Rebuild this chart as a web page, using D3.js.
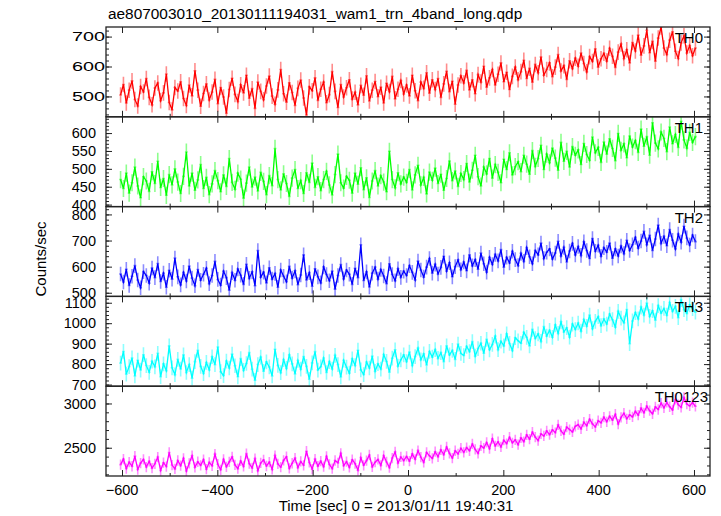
<!DOCTYPE html>
<html><head><meta charset="utf-8">
<script src="https://cdn.jsdelivr.net/npm/d3@7"></script>
<style>
body{margin:0;background:#fff;}
text{font-family:"Liberation Sans",Arial,Helvetica,sans-serif;fill:#000;}
</style>
</head><body>
<svg id="chart" width="721" height="516"></svg>
<script>
// ---------------- data ----------------
const titleText = "ae807003010_20130111194031_wam1_trn_4band_long.qdp";
const xLabelText = "Time [sec] 0 = 2013/01/11 19:40:31";
const yLabelText = "Counts/sec";
const binStart = -603;   // time of first bin (sec)
const binSize = 6;       // bin width (sec)
const seriesNames = ["TH0", "TH1", "TH2", "TH3", "TH0123"];
const seriesColors = ["#ff0000", "#00ff00", "#0000ff", "#00ffff", "#ff00ff"];

const th0 = [
505,540,478,521,552,490,468,533,515,560,
497,472,528,545,486,512,575,480,455,530,
518,549,493,470,538,502,586,521,467,510,
542,488,515,557,476,530,498,444,523,561,
507,483,539,512,571,494,526,460,548,517,
489,535,568,501,474,522,590,509,481,546,
513,470,527,555,495,438,532,519,562,487,
524,548,479,506,583,517,463,540,498,529,
556,491,514,472,537,504,569,485,521,550,
499,531,478,544,516,567,492,524,553,508,
538,502,571,519,486,548,527,579,511,556,
523,560,497,542,584,516,551,474,538,569,
545,587,522,556,509,573,548,601,531,562,
590,538,574,612,549,581,523,567,598,556,
583,621,560,594,548,607,579,632,571,590,
612,566,598,640,585,603,557,619,593,628,
601,645,610,582,633,617,659,598,626,644,
618,661,634,597,648,675,627,656,612,680,
652,705,638,669,721,646,684,618,695,732,
662,640,688,716,651,627,679,703,645,670,
636,662];

const th1 = [
470,445,488,432,461,505,452,419,478,466,
437,492,459,521,448,473,426,484,455,500,
463,431,479,547,452,488,440,469,512,445,
476,428,458,495,467,436,483,451,529,462,
443,488,471,418,460,505,449,477,438,490,
465,428,481,453,557,470,441,486,459,423,
474,498,445,467,431,489,462,516,448,478,
439,470,493,455,427,484,541,461,446,479,
468,432,488,457,503,442,475,420,466,495,
452,481,463,436,549,470,447,489,458,477,
462,498,441,483,510,455,476,430,491,468,
502,459,485,440,473,522,467,494,451,487,
470,515,463,496,538,478,452,505,486,529,
474,512,490,461,527,498,545,483,506,520,
492,538,513,485,551,507,529,566,498,541,
517,558,530,496,574,521,549,505,562,538,
553,512,571,540,524,589,545,560,518,575,
541,584,557,523,599,552,570,531,592,561,
579,546,611,563,590,538,629,572,556,603,
585,548,617,570,596,560,633,581,558,602,
574,590];

const th2 = [
572,541,590,528,563,604,549,519,581,566,
537,595,558,612,543,575,521,586,552,633,
561,530,578,545,602,556,527,589,548,571,
594,535,566,620,551,529,583,558,510,577,
548,591,567,532,609,555,580,527,662,560,
579,538,596,552,574,521,587,563,542,601,
556,584,531,568,645,549,577,525,592,561,
538,599,570,546,583,514,566,608,553,587,
571,532,594,558,684,547,580,522,575,598,
552,589,564,535,611,570,546,592,559,583,
566,604,578,549,621,587,560,598,631,575,
609,572,597,640,583,615,561,600,626,588,
618,584,645,603,627,590,652,611,579,636,
608,647,622,665,598,636,614,659,627,604,
651,620,673,638,611,662,645,690,631,655,
668,629,652,697,641,674,618,660,689,645,
677,643,695,662,631,708,659,682,640,673,
655,690,632,668,641,679,650,701,662,684,
712,671,698,735,684,720,662,706,759,689,
716,680,742,701,668,725,694,755,710,683,
721,696];

const th3 = [
805,862,751,788,830,742,819,771,846,793,
760,814,787,853,739,801,768,889,782,748,
823,776,845,759,798,731,812,867,789,754,
808,772,836,797,884,763,744,815,781,849,
792,738,827,769,803,856,775,721,798,834,
765,811,786,742,873,794,758,822,779,845,
801,752,818,775,837,789,726,806,861,771,
787,830,759,812,776,843,798,737,819,785,
756,826,793,868,772,749,810,781,839,765,
802,776,847,813,761,829,870,790,821,845,
812,859,793,837,878,821,850,796,862,834,
871,828,856,812,889,845,867,823,898,852,
842,887,861,910,839,876,902,853,921,870,
896,937,871,912,889,948,901,866,929,914,
902,956,931,889,970,925,948,911,983,937,
965,931,992,950,1007,957,978,932,996,969,
1001,961,1018,985,1040,973,1009,1032,988,1021,
996,1045,1017,981,1058,1025,1002,1067,900,1011,
1052,1021,1079,1040,1098,1033,1061,1015,1086,1049,
1072,1039,1101,1058,1082,1027,1115,1066,1048,1090,
1071,1054];

const th0123 = [
2310,2372,2265,2338,2291,2405,2254,2326,2368,2282,
2347,2270,2319,2395,2243,2331,2288,2447,2305,2262,
2356,2298,2381,2237,2324,2410,2279,2342,2301,2366,
2258,2335,2296,2428,2314,2251,2369,2285,2340,2397,
2307,2263,2351,2289,2434,2320,2272,2377,2241,2328,
2363,2294,2338,2255,2412,2318,2281,2357,2399,2267,
2325,2383,2276,2345,2302,2461,2334,2259,2371,2292,
2349,2286,2403,2311,2264,2356,2330,2437,2297,2343,
2278,2365,2320,2246,2388,2302,2355,2418,2284,2337,
2368,2301,2412,2339,2276,2384,2452,2327,2396,2354,
2402,2349,2431,2370,2468,2393,2335,2447,2409,2380,
2455,2398,2477,2421,2509,2437,2384,2466,2430,2495,
2448,2502,2466,2543,2481,2437,2521,2497,2560,2489,
2602,2521,2568,2509,2585,2547,2619,2556,2590,2534,
2612,2568,2645,2597,2676,2620,2581,2658,2633,2691,
2648,2702,2671,2758,2690,2652,2733,2705,2679,2742,
2761,2712,2789,2748,2822,2770,2735,2806,2781,2846,
2793,2855,2812,2879,2768,2843,2890,2827,2871,2849,
2912,2868,2947,2895,2970,2918,2884,2961,2932,3005,
2951,3012,2963,2928,3045,2987,2956,3068,2994,2972,
3010,2968];

const seriesValues = [th0, th1, th2, th3, th0123];
const seriesErr = [26, 24, 28, 36, 58];   // typical 1-sigma error per bin

const xDomain = [-633.6, 633.6];
const xMajorTicks = [-600, -400, -200, 0, 200, 400, 600];
const xMinorTicks = [-500, -300, -100, 100, 300, 500];
const yDomains = [[432, 732], [394.4, 645.5], [486, 830], [692, 1131], [2181, 3195]];
const yMajorTicks = [[500, 600, 700], [400, 450, 500, 550, 600], [500, 600, 700, 800], [700, 800, 900, 1000, 1100], [2500, 3000]];
const yMinorTicks = [
  d3.range(440, 731, 20),
  d3.range(400, 641, 10),
  d3.range(500, 821, 20),
  d3.range(700, 1121, 20),
  d3.range(2200, 3101, 100)
];

// ---------------- layout ----------------
const svg = d3.select("#chart");
const L = 106, R = 710, T = 27, B = 476;
const nP = seriesNames.length;
const pH = (B - T) / nP;
const x = d3.scaleLinear().domain(xDomain).range([L, R]);
const times = seriesValues[0].map((d, i) => binStart + i * binSize);
const axisColor = "#222";

svg.append("rect").attr("width", 721).attr("height", 516).attr("fill", "#fff");

const defs = svg.append("defs");

seriesNames.forEach((name, p) => {
  const top = T + p * pH, bot = T + (p + 1) * pH;
  const y = d3.scaleLinear().domain(yDomains[p]).range([bot, top]);
  const vals = seriesValues[p];
  const col = seriesColors[p];
  const err = seriesErr[p];

  defs.append("clipPath").attr("id", "clip" + p)
    .append("rect").attr("x", L).attr("y", top).attr("width", R - L).attr("height", pH);

  const g = svg.append("g").attr("clip-path", `url(#clip${p})`);
  // error bars (value +/- err), one per bin, with bin-width caps
  const eb = g.selectAll("g.err").data(vals).join("g").attr("class", "err")
    .attr("stroke", col).attr("stroke-opacity", 0.45).attr("stroke-width", 1.6);
  eb.append("line")
    .attr("x1", (d, i) => x(times[i])).attr("x2", (d, i) => x(times[i]))
    .attr("y1", d => y(d - err)).attr("y2", d => y(d + err));
  eb.append("line")
    .attr("x1", (d, i) => x(times[i] - binSize / 2)).attr("x2", (d, i) => x(times[i] + binSize / 2))
    .attr("y1", d => y(d)).attr("y2", d => y(d));
  g.append("path").datum(vals)
    .attr("d", d3.line().x((d, i) => x(times[i])).y(d => y(d)))
    .attr("fill", "none").attr("stroke", col).attr("stroke-width", 1.3);

  // axes ticks (inward)
  const mk = (axis, tr) => {
    const a = svg.append("g").attr("transform", tr).call(axis);
    a.select(".domain").remove();
    a.selectAll("line").attr("stroke", axisColor);
    a.selectAll("text").remove();
  };
  mk(d3.axisLeft(y).tickValues(yMajorTicks[p]).tickSize(-6), `translate(${L},0)`);
  mk(d3.axisLeft(y).tickValues(yMinorTicks[p]).tickSize(-3), `translate(${L},0)`);
  mk(d3.axisRight(y).tickValues(yMajorTicks[p]).tickSize(-6), `translate(${R},0)`);
  mk(d3.axisRight(y).tickValues(yMinorTicks[p]).tickSize(-3), `translate(${R},0)`);
  mk(d3.axisBottom(x).tickValues(xMajorTicks).tickSize(-6), `translate(0,${bot})`);
  mk(d3.axisBottom(x).tickValues(xMinorTicks).tickSize(-3), `translate(0,${bot})`);
  mk(d3.axisTop(x).tickValues(xMajorTicks).tickSize(-6), `translate(0,${top})`);
  mk(d3.axisTop(x).tickValues(xMinorTicks).tickSize(-3), `translate(0,${top})`);

  // y tick labels
  const lab = svg.append("g");
  yMajorTicks[p].forEach(v => {
    const t = lab.append("text")
      .attr("x", p === 0 ? 105 : 96).attr("y", y(v)).attr("dy", "0.36em")
      .attr("text-anchor", "end")
      .style("font-size", p === 0 ? "12.5px" : "14.5px")
      .text(v);
    if (p === 0) t.attr("textLength", 33).attr("lengthAdjust", "spacingAndGlyphs");
  });

  // panel name
  svg.append("text").attr("x", p === nP - 1 ? 708 : 703).attr("y", top + 16)
    .attr("text-anchor", "end").style("font-size", "15px").text(name);
});

// frames
for (let p = 0; p < nP; p++) {
  svg.append("rect").attr("x", L).attr("y", T + p * pH).attr("width", R - L).attr("height", pH)
    .attr("fill", "none").attr("stroke", axisColor).attr("stroke-width", 1.3);
}

// x tick labels
svg.append("g").selectAll("text").data(xMajorTicks).join("text")
  .attr("x", d => x(d)).attr("y", 495).attr("text-anchor", "middle")
  .style("font-size", "14.5px")
  .text(d => d < 0 ? "\u2212" + Math.abs(d) : d);

// titles
svg.append("text").attr("x", 108).attr("y", 19).style("font-size", "15.4px").text(titleText);
svg.append("text").attr("x", 396).attr("y", 511).attr("text-anchor", "middle").style("font-size", "15px").text(xLabelText);
svg.append("text").attr("transform", "translate(46,259) rotate(-90)").attr("text-anchor", "middle")
  .style("font-size", "15px").text(yLabelText);
</script>
</body></html>
